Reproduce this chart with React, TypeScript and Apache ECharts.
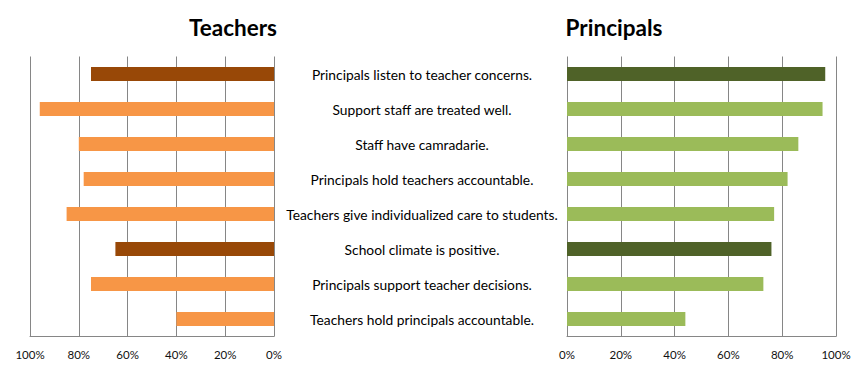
import React, { useEffect, useRef } from "react";
import * as echarts from "echarts";

const categories = [
  "Principals listen to teacher concerns.",
  "Support staff are treated well.",
  "Staff have camradarie.",
  "Principals hold teachers accountable.",
  "Teachers give individualized care to students.",
  "School climate is positive.",
  "Principals support teacher decisions.",
  "Teachers hold principals accountable.",
];
const teacherValues = [0.75, 0.96, 0.8, 0.78, 0.85, 0.65, 0.75, 0.4];
const principalValues = [0.96, 0.95, 0.86, 0.82, 0.77, 0.76, 0.73, 0.44];
const highlighted = [true, false, false, false, false, true, false, false];
const titles = ["Teachers", "Principals"];

const FONT = "Lato, 'Open Sans', sans-serif";
const GRID_COLOR = "#868686";

export default function App() {
  const ref = useRef<HTMLDivElement>(null);
  useEffect(() => {
    if (!ref.current) return;
    const chart = echarts.init(ref.current, null, { renderer: "svg" });
    const pct = (v: number) => `${Math.round(v * 100)}%`;
    const xAxisBase = {
      type: "value" as const,
      min: 0,
      max: 1,
      interval: 0.2,
      axisLine: { show: true, lineStyle: { color: GRID_COLOR } },
      axisTick: { show: false },
      splitLine: { show: true, lineStyle: { color: GRID_COLOR, width: 1 } },
      axisLabel: {
        formatter: pct,
        color: "#111",
        fontSize: 11.5,
        fontFamily: FONT,
        margin: 12,
      },
    };
    const titleStyle = {
      fontSize: 22.5,
      fontWeight: "bold",
      fill: "#000",
      fontFamily: FONT,
      textAlign: "center",
      textVerticalAlign: "middle",
    };
    chart.setOption({
      animation: false,
      backgroundColor: "#fff",
      graphic: [
        { type: "text", x: 233, y: 27, style: { ...titleStyle, text: titles[0] } },
        { type: "text", x: 614, y: 27, style: { ...titleStyle, text: titles[1] } },
      ],
      grid: [
        { left: 30, top: 56.5, width: 244, height: 280, containLabel: false },
        { left: 567, top: 56.5, width: 269, height: 280, containLabel: false },
      ],
      xAxis: [
        { ...xAxisBase, gridIndex: 0, inverse: true },
        { ...xAxisBase, gridIndex: 1 },
      ],
      yAxis: [
        {
          type: "category",
          gridIndex: 0,
          data: categories,
          inverse: true,
          axisLine: { show: false },
          axisTick: { show: false },
          axisLabel: { show: false },
        },
        {
          type: "category",
          gridIndex: 1,
          data: categories,
          inverse: true,
          axisLine: { show: false },
          axisTick: { show: false },
          axisLabel: {
            show: true,
            align: "center",
            margin: 145,
            color: "#000",
            fontSize: 13.8,
            fontFamily: FONT,
          },
        },
      ],
      series: [
        {
          type: "bar",
          xAxisIndex: 0,
          yAxisIndex: 0,
          barCategoryGap: "60%",
          data: teacherValues.map((v, i) => ({
            value: v,
            itemStyle: { color: highlighted[i] ? "#984807" : "#F79646" },
          })),
        },
        {
          type: "bar",
          xAxisIndex: 1,
          yAxisIndex: 1,
          barCategoryGap: "60%",
          data: principalValues.map((v, i) => ({
            value: v,
            itemStyle: { color: highlighted[i] ? "#4F6228" : "#9BBB59" },
          })),
        },
      ],
    });
    return () => chart.dispose();
  }, []);
  return (
    <div
      ref={ref}
      style={{ position: "fixed", left: 0, top: 0, width: 864, height: 379, background: "#fff" }}
    />
  );
}
